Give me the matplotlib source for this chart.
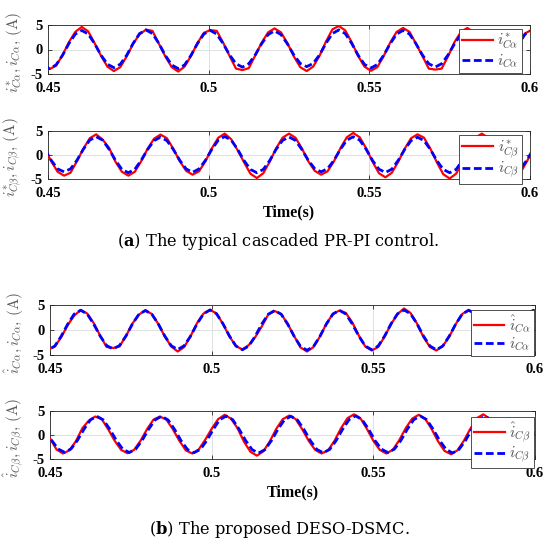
import numpy as np
import matplotlib
matplotlib.use("Agg")
import matplotlib.pyplot as plt

plt.rcParams['font.family'] = ['Liberation Serif', 'DejaVu Serif']
plt.rcParams['mathtext.fontset'] = 'cm'
plt.rcParams['axes.unicode_minus'] = False

STEP = 0.002
# sample start times (s) for each trace
T1_START, T2_START, T3_START, T4_START, T4B_START = 0.4485, 0.449, 0.4475, 0.448, 0.4485

# (a) cascaded PR-PI: alpha axis
a_alpha_ref = [-3.2, -4.0, -3.3, -1.2, 1.5, 3.6, 4.6, 3.7, 1.3, -1.3,
               -3.5, -4.4, -3.6, -1.4, 1.2, 3.1, 4.05, 3.8, 1.2, -1.4,
               -3.6, -4.5, -3.5, -1.3, 1.3, 3.4, 3.95, 3.8, 1.4, -1.3,
               -3.9, -4.2, -3.8, -1.2, 1.4, 3.5, 4.3, 3.5, 1.3, -1.4,
               -3.6, -4.4, -3.5, -1.3, 1.6, 4.1, 4.8, 3.9, 1.5, -1.3,
               -3.5, -4.35, -3.6, -1.3, 1.4, 3.6, 4.4, 3.6, 1.2, -1.3,
               -3.9, -4.1, -3.9, -1.4, 1.5, 3.6, 4.4, 3.5, 1.3, -1.3,
               -3.5, -4.3, -3.5, -1.2, 1.3, 3.3, 4.0]
a_alpha_meas = [-3.15, -3.9, -3.15, -1.2, 1.2, 3.15, 3.9, 3.15, 1.2, -1.15,
                -3.0, -3.7, -3.0, -1.15, 1.25, 3.25, 4.0, 3.25, 1.25, -1.2,
                -3.15, -3.9, -3.15, -1.2, 1.2, 3.15, 3.9, 3.15, 1.2, -1.1,
                -2.9, -3.6, -2.9, -1.1, 1.2, 3.05, 3.8, 3.05, 1.15, -1.1,
                -2.85, -3.5, -2.85, -1.1, 1.25, 3.25, 4.0, 3.25, 1.25, -1.15,
                -3.05, -3.8, -3.05, -1.15, 1.2, 3.15, 3.9, 3.15, 1.2, -1.1,
                -2.9, -3.6, -2.9, -1.1, 1.15, 3.05, 3.8, 3.05, 1.15, -1.15,
                -3.05, -3.8, -3.05, -1.15, 1.2, 3.15, 3.9]
# (a) beta axis
a_beta_ref = [1.3, -1.3, -3.5, -4.3, -3.7, -1.3, 1.3, 3.5, 4.3, 3.2,
              1.5, -1.4, -3.5, -4.3, -3.5, -1.3, 1.3, 3.4, 4.25, 3.5,
              1.3, -1.3, -3.3, -4.1, -3.4, -1.3, 1.4, 3.6, 4.45, 3.3,
              1.0, -1.5, -3.9, -4.8, -3.8, -1.4, 1.4, 3.6, 4.45, 3.6,
              1.4, -1.3, -3.3, -4.1, -3.4, -1.3, 1.4, 3.7, 4.6, 3.7,
              1.4, -1.4, -3.8, -4.65, -3.7, -1.4, 1.3, 3.5, 4.3, 3.6,
              1.3, -1.5, -4.0, -4.9, -3.9, -1.4, 1.4, 3.6, 4.45, 3.6,
              1.4, -1.4, -3.7, -4.6, -3.7, -1.4, 1.3]
a_beta_meas = [1.2, -1.1, -2.9, -3.5, -2.9, -1.1, 1.2, 3.1, 3.8, 3.1,
               1.2, -1.1, -3.0, -3.7, -3.0, -1.1, 1.15, 3.0, 3.7, 3.0,
               1.15, -1.1, -2.9, -3.6, -2.9, -1.1, 1.2, 3.1, 3.85, 3.1,
               1.2, -1.15, -3.0, -3.7, -3.0, -1.15, 1.2, 3.05, 3.75, 3.05,
               1.15, -1.1, -2.85, -3.5, -2.85, -1.1, 1.2, 3.1, 3.8, 3.1,
               1.2, -1.15, -2.95, -3.65, -2.95, -1.1, 1.15, 3.0, 3.7, 3.0,
               1.15, -1.15, -3.0, -3.7, -3.0, -1.15, 1.2, 3.1, 3.8, 3.1,
               1.2, -1.1, -2.9, -3.6, -2.9, -1.1, 1.2]
# (b) DESO-DSMC: alpha axis
b_alpha_est = [-3.2, -3.9, -3.3, -1.4, 1.0, 2.9, 4.0, 3.3, 1.4, -1.1,
               -3.4, -3.6, -3.3, -1.2, 1.3, 3.1, 3.9, 3.2, 1.2, -1.3,
               -3.3, -4.3, -3.4, -1.2, 1.4, 3.3, 4.05, 3.3, 1.2, -1.3,
               -3.2, -3.9, -3.0, -1.4, 0.7, 3.1, 3.8, 3.2, 1.2, -1.2,
               -3.5, -4.3, -3.4, -1.3, 1.3, 3.2, 3.9, 3.4, 1.5, -1.1,
               -3.3, -4.1, -3.4, -1.3, 1.2, 3.2, 4.3, 3.4, 1.3, -1.4,
               -3.4, -4.1, -3.2, -1.3, 1.2, 3.2, 4.0, 3.2, 1.3, -1.2,
               -3.2, -4.0, -3.3, -1.3, 1.2, 3.1, 3.9, 3.2]
b_alpha_meas = [-3.2, -3.95, -3.2, -1.2, 1.2, 3.2, 3.95, 3.2, 1.2, -1.2,
                -3.1, -3.8, -3.1, -1.2, 1.2, 3.15, 3.9, 3.15, 1.2, -1.2,
                -3.15, -3.9, -3.15, -1.2, 1.25, 3.25, 4.0, 3.25, 1.25, -1.2,
                -3.2, -3.95, -3.2, -1.2, 1.2, 3.15, 3.9, 3.15, 1.2, -1.25,
                -3.3, -4.05, -3.3, -1.25, 1.2, 3.2, 3.95, 3.2, 1.2, -1.2,
                -3.2, -3.95, -3.2, -1.2, 1.25, 3.25, 4.0, 3.25, 1.25, -1.2,
                -3.2, -3.95, -3.2, -1.2, 1.2, 3.2, 3.95, 3.2, 1.2, -1.2,
                -3.15, -3.9, -3.15, -1.2, 1.2, 3.2, 3.95, 3.2]
# (b) beta axis
b_beta_est = [0.9, -0.7, -3.0, -3.85, -3.2, -1.3, 1.4, 3.0, 3.85, 3.3,
              1.2, -1.2, -3.1, -3.8, -3.1, -1.2, 1.2, 3.2, 3.85, 3.2,
              1.2, -1.2, -3.2, -3.85, -3.0, -1.0, 1.3, 3.3, 4.2, 3.4,
              1.4, -1.4, -3.5, -4.3, -3.4, -1.3, 1.3, 3.3, 4.05, 3.3,
              1.2, -1.2, -3.1, -3.85, -3.2, -1.2, 1.4, 3.5, 4.3, 3.5,
              1.3, -1.2, -3.1, -3.85, -3.1, -1.1, 1.4, 3.4, 4.2, 3.4,
              1.3, -1.3, -3.3, -4.0, -3.2, -1.2, 1.3, 3.5, 4.3, 3.4,
              1.3, -1.2, -3.1, -3.8, -3.1, -1.2, 0.4]
b_beta_meas = [1.0, -1.1, -2.9, -3.6, -2.9, -1.1, 1.2, 3.15, 3.9, 3.15,
               1.2, -1.1, -2.95, -3.65, -2.95, -1.1, 1.2, 3.15, 3.9, 3.15,
               1.2, -1.15, -3.0, -3.7, -3.0, -1.15, 1.2, 3.2, 3.95, 3.2,
               1.2, -1.15, -3.05, -3.75, -3.05, -1.15, 1.2, 3.15, 3.9, 3.15,
               1.2, -1.15, -3.0, -3.7, -3.0, -1.15, 1.2, 3.2, 4.0, 3.2,
               1.25, -1.15, -2.95, -3.65, -2.95, -1.15, 1.2, 3.2, 3.95, 3.2,
               1.2, -1.15, -3.0, -3.75, -3.0, -1.15, 1.2, 3.15, 3.9, 3.15,
               1.2, -1.1, -2.95, -3.65, -2.95, -1.1, 1.2]

x_ticks = [0.45, 0.5, 0.55, 0.6]
x_tick_labels = ["0.45", "0.5", "0.55", "0.6"]
y_ticks = [-5, 0, 5]
y_tick_labels = ["-5", "0", "5"]

ylabels = [r"$i^{*}_{C\alpha}, i_{C\alpha},\, \mathrm{(A)}$",
           r"$i^{*}_{C\beta}, i_{C\beta},\, \mathrm{(A)}$",
           r"$\hat{i}_{C\alpha}, i_{C\alpha},\, \mathrm{(A)}$",
           r"$\hat{i}_{C\beta}, i_{C\beta},\, \mathrm{(A)}$"]
legend_labels = [(r"$i^{*}_{C\alpha}$", r"$i_{C\alpha}$"),
                 (r"$i^{*}_{C\beta}$", r"$i_{C\beta}$"),
                 (r"$\hat{i}_{C\alpha}$", r"$i_{C\alpha}$"),
                 (r"$\hat{i}_{C\beta}$", r"$i_{C\beta}$")]
captions = [("a", "The typical cascaded PR-PI control."),
            ("b", "The proposed DESO-DSMC.")]


def times(start, n):
    return start + STEP * np.arange(n)


traces = [
    (times(T1_START, len(a_alpha_ref)), a_alpha_ref, times(T1_START, len(a_alpha_meas)), a_alpha_meas),
    (times(T2_START, len(a_beta_ref)), a_beta_ref, times(T2_START, len(a_beta_meas)), a_beta_meas),
    (times(T3_START, len(b_alpha_est)), b_alpha_est, times(T3_START, len(b_alpha_meas)), b_alpha_meas),
    (times(T4_START, len(b_beta_est)), b_beta_est, times(T4B_START, len(b_beta_meas)), b_beta_meas),
]

W, H = 550, 547
fig = plt.figure(figsize=(W / 100, H / 100), dpi=100)

# axes boxes in pixels: left, top, right, bottom
boxes = [(48, 25, 530, 74), (48, 131, 530, 179), (50, 305, 535, 355), (50, 411, 535, 459)]
leg_anchor = [(0.983, 0.92), (0.983, 0.92), (0.998, 0.90), (0.998, 0.875)]

axes = []
for i, (l, t, r, b) in enumerate(boxes):
    ax = fig.add_axes([l / W, 1 - b / H, (r - l) / W, (b - t) / H])
    axes.append(ax)
    tr, vr, tb, vb = traces[i]
    ax.plot(tr, vr, color='#ff0000', lw=1.6, solid_joinstyle='round', label=legend_labels[i][0], zorder=3)
    ax.plot(tb, vb, color='#0000ff', lw=2.0, linestyle=(0, (2.8, 1.3)), label=legend_labels[i][1], zorder=4)
    ax.set_xlim(0.45, 0.6)
    ax.set_ylim(-5, 5)
    ax.set_xticks(x_ticks)
    ax.set_xticklabels(x_tick_labels)
    ax.set_yticks(y_ticks)
    ax.set_yticklabels(y_tick_labels)
    for lab in ax.get_xticklabels() + ax.get_yticklabels():
        lab.set_fontweight('bold')
    ax.tick_params(direction='in', length=3, width=0.6, labelsize=10.5, top=True, right=True,
                   colors='0.15', labelcolor='black')
    ax.tick_params(axis='x', pad=6)
    ax.tick_params(axis='y', pad=4)
    ax.grid(True, color='0.86', lw=0.6)
    ax.set_axisbelow(True)
    for sp in ax.spines.values():
        sp.set_color('0.15')
        sp.set_linewidth(0.6)
    ax.set_ylabel(ylabels[i], fontsize=11, color='0.35')
    ax.yaxis.set_label_coords(-0.05, 0.45)
    leg = ax.legend(loc='upper right', bbox_to_anchor=leg_anchor[i], fontsize=11, frameon=True,
                    fancybox=False, framealpha=1, edgecolor='0.2', handlelength=2.0,
                    handletextpad=0.3, borderpad=0.2, labelspacing=0.05, borderaxespad=0)
    leg.get_frame().set_linewidth(0.6)
    for txt in leg.get_texts():
        txt.set_color('0.3')
    if i in (1, 3):
        ax.set_xlabel("Time(s)", fontsize=11.5, fontweight='bold', labelpad=3)

fig.text(278 / W, 1 - 241 / H, r"($\mathbf{%s}$) %s" % captions[0], ha='center', va='center',
         fontsize=11.7, family='DejaVu Serif', math_fontfamily='dejavuserif')
fig.text(279 / W, 1 - 530 / H, r"($\mathbf{%s}$) %s" % captions[1], ha='center', va='center',
         fontsize=11.7, family='DejaVu Serif', math_fontfamily='dejavuserif')

fig.savefig("out.png", dpi=100)
